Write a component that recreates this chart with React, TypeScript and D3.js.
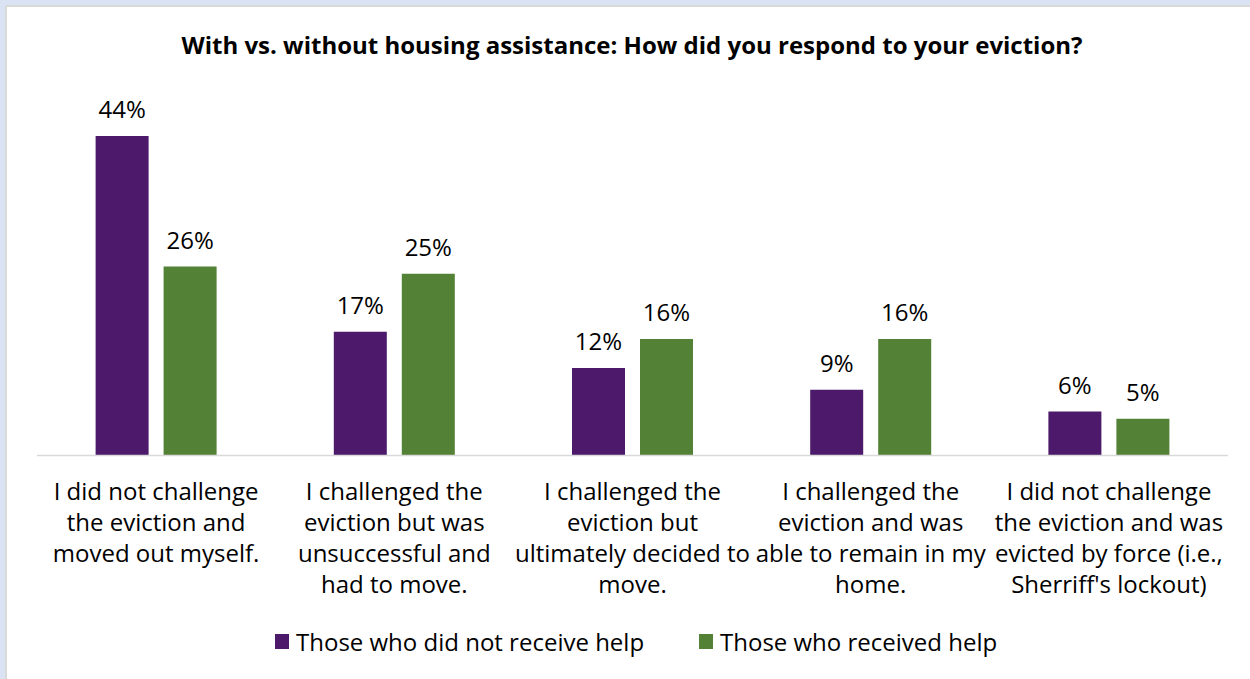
import React from "react";
import * as d3 from "d3";

const categories: string[][] = [
  ["I did not challenge", "the eviction and", "moved out myself."],
  ["I challenged the", "eviction but was", "unsuccessful and", "had to move."],
  ["I challenged the", "eviction but", "ultimately decided to", "move."],
  ["I challenged the", "eviction and was", "able to remain in my", "home."],
  ["I did not challenge", "the eviction and was", "evicted by force (i.e.,", "Sherriff's lockout)"],
];
const noHelp = [44, 17, 12, 9, 6];
const withHelp = [26, 25, 16, 16, 5];
const seriesNames = ["Those who did not receive help", "Those who received help"];
const colors = ["#4d1a6b", "#538135"];
const title = "With vs. without housing assistance: How did you respond to your eviction?";

const W = 1250;
const H = 679;
const font = "'Open Sans', 'Noto Sans', sans-serif";

export default function App() {
  const x0 = d3.scaleBand<number>().domain(d3.range(categories.length)).range([37, 1228]).paddingInner(0).paddingOuter(0);
  const baseY = 455;
  const y = d3.scaleLinear().domain([0, 44]).range([baseY, 136]);
  const barW = 53;
  const gap = 15;
  const series = [noHelp, withHelp];

  return (
    <svg width={W} height={H} style={{ position: "absolute", left: 0, top: 0 }} fontFamily={font}>
      <rect x={0} y={0} width={W} height={H} fill="#dae3f3" />
      <rect x={5} y={5} width={W} height={H} fill="#d9d9d9" />
      <rect x={7} y={7} width={W} height={H} fill="#ffffff" />
      <text x={632} y={54} textAnchor="middle" fontSize={24} fontWeight="bold" fill="#000">
        {title}
      </text>
      {categories.map((lines, i) => {
        const c = (x0(i) as number) + x0.bandwidth() / 2;
        return (
          <g key={i}>
            {series.map((s, j) => {
              const bx = j === 0 ? c - gap / 2 - barW : c + gap / 2;
              const by = y(s[i]);
              return (
                <g key={j}>
                  <rect x={bx} y={by} width={barW} height={baseY - by} fill={colors[j]} />
                  <text x={bx + barW / 2} y={by - 18} textAnchor="middle" fontSize={24} fill="#000">
                    {s[i]}%
                  </text>
                </g>
              );
            })}
            {lines.map((l, k) => (
              <text key={k} x={c} y={500 + k * 31} textAnchor="middle" fontSize={24} fill="#000">
                {l}
              </text>
            ))}
          </g>
        );
      })}
      <line x1={37} x2={1228} y1={baseY + 0.5} y2={baseY + 0.5} stroke="#d9d9d9" strokeWidth={1.5} />
      {seriesNames.map((n, j) => {
        const lx = j === 0 ? 275 : 699;
        return (
          <g key={j}>
            <rect x={lx} y={634} width={14} height={15} fill={colors[j]} />
            <text x={lx + 21} y={651} fontSize={24} fill="#000">
              {n}
            </text>
          </g>
        );
      })}
    </svg>
  );
}
